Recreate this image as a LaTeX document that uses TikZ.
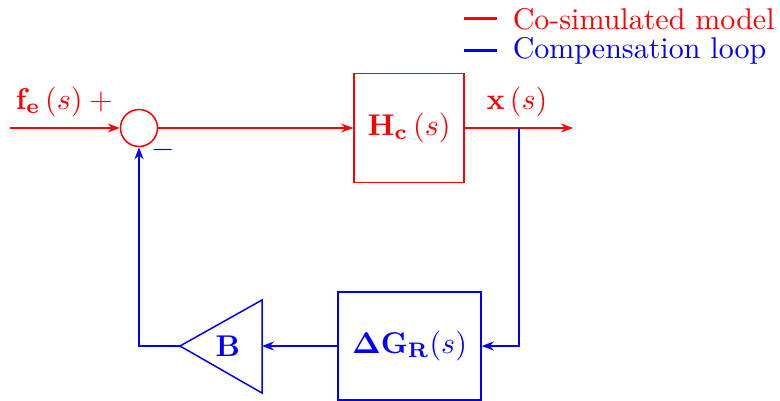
\documentclass[tikz,border=0pt]{standalone}
\usepackage{amsmath}
\usetikzlibrary{arrows.meta}
\begin{document}
\begin{tikzpicture}[x=0.3333pt,y=-0.3333pt,line width=0.5pt,
  redc/.style={draw=red,text=red},
  bluec/.style={draw=blue,text=blue},
  blk/.style={draw,minimum width=110*0.3333pt,minimum height=109*0.3333pt,inner sep=0pt},
  arr/.style={-{Stealth[length=4pt,width=3pt]}},
  lbl/.style={inner sep=0pt}]
\useasboundingbox (0,0) rectangle (780,401);
% legend
\coordinate (l1a) at (464,19); \coordinate (l1b) at (497,19);
\coordinate (l2a) at (464,51); \coordinate (l2b) at (497,51);
\draw[red,line width=1pt] (l1a) -- (l1b);
\draw[blue,line width=1pt] (l2a) -- (l2b);
\node[red,anchor=west,lbl] (leg1) at (512,19) {Co-simulated model};
\node[blue,anchor=west,lbl] (leg2) at (512,51) {Compensation loop};
% forward path
\coordinate (in) at (10,128);
\node[circle,draw=red,minimum size=37*0.3333pt,inner sep=0pt] (sum) at (139,128) {};
\node[blk,redc] (Hc) at (409,128) {$\mathbf{H_c}\left(s\right)$};
\coordinate (out) at (573,128);
\coordinate (br) at (519,128);
\draw[red,arr] (in) -- (sum.west);
\draw[red,arr] (sum.east) -- (Hc.west);
\draw[red,arr] (Hc.east) -- (out);
\node[red,lbl,anchor=west] (fe) at (15,102) {$\mathbf{f_e}\left(s\right)+{}$};
\node[red,lbl] (xs) at (517,102) {$\mathbf{x}\left(s\right)$};
\node[blue,lbl] (minus) at (163,150) {$-$};
% feedback
\node[bluec,draw,minimum width=143*0.3333pt,minimum height=108*0.3333pt,inner sep=0pt] (dG) at (409.5,346) {$\mathbf{\Delta G_R}(s)$};
\coordinate (tritip) at (180,346);
\coordinate (tritop) at (262,300);
\coordinate (tribot) at (262,393);
\coordinate (triin) at (262,346);
\draw[blue] (tritip) -- (tritop) -- (tribot) -- cycle;
\node[blue,lbl] (B) at (228,346) {$\mathbf{B}$};
\coordinate (corner1) at (519,346);
\coordinate (corner2) at (139,346);
\draw[blue,arr] (br) -- (corner1) -- (dG.east);
\draw[blue,arr] (dG.west) -- (triin);
\draw[blue,arr] (tritip) -- (corner2) -- (sum.south);
\end{tikzpicture}
\end{document}
